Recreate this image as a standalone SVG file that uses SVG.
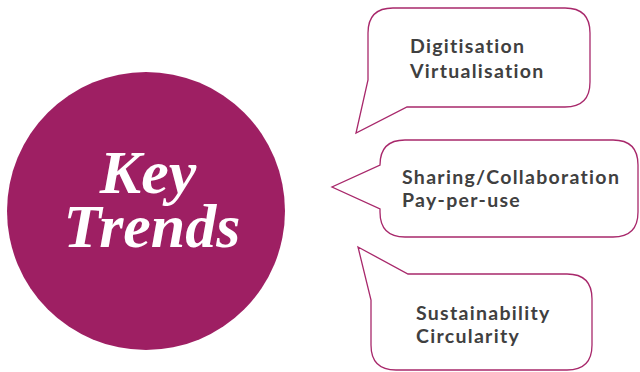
<svg xmlns="http://www.w3.org/2000/svg" width="640" height="372" viewBox="0 0 640 372">
<style>
.bub{fill:#fff;stroke:#a8286b;stroke-width:1.3}
.t{font-family:Lato,"Open Sans",sans-serif;font-weight:700;font-size:19.5px;fill:#404040;letter-spacing:1.3px}
.k{font-family:"Liberation Serif","DejaVu Serif",serif;font-style:italic;font-weight:700;font-size:62px;fill:#fff;text-anchor:middle}
</style>
<rect width="640" height="372" fill="#fff"/>
<g id="key-trends">
<circle cx="146" cy="211" r="139" fill="#9e1f63"/>
<text class="k"><tspan x="148" y="193">Key</tspan><tspan x="152" y="247">Trends</tspan></text>
</g>
<g id="connectors"></g>
<g id="bubble-digitisation">
<path class="bub" d="M368,80 L368,33 Q368,8 393,8 L565,8 Q590,8 590,33 L590,82 Q590,107 565,107 L407,107 L356,133 Z"/>
<text class="t" x="410" y="53">Digitisation</text>
<text class="t" x="410" y="78">Virtualisation</text>
</g>
<g id="bubble-sharing">
<path class="bub" d="M405,140 L613,140 Q638,140 638,165 L638,212 Q638,237 613,237 L405,237 Q380,237 380,212 L380,209 L332,187 L380,165 Q380,140 405,140 Z"/>
<text class="t" x="402" y="184">Sharing/Collaboration</text>
<text class="t" x="402" y="207">Pay-per-use</text>
</g>
<g id="bubble-sustainability">
<path class="bub" d="M358,247 L408,274 L567,274 Q592,274 592,299 L592,345 Q592,370 567,370 L396,370 Q371,370 371,345 L371,300 Z"/>
<text class="t" x="416" y="320">Sustainability</text>
<text class="t" x="416" y="343">Circularity</text>
</g>
</svg>
